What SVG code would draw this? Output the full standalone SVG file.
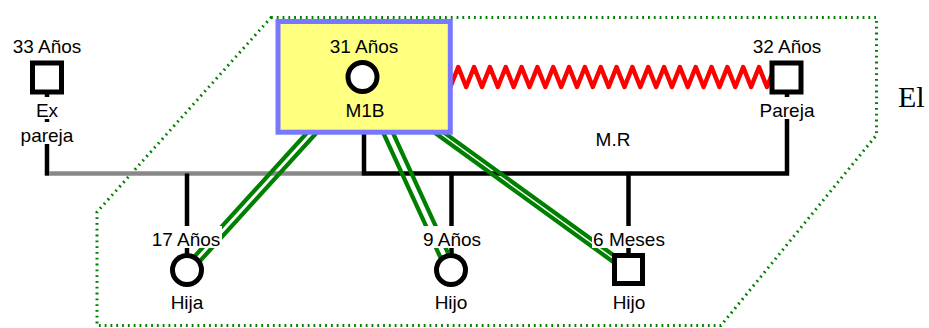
<svg xmlns="http://www.w3.org/2000/svg" width="929" height="328" viewBox="0 0 929 328">
<style>
.t{font-family:"Liberation Sans",Arial,sans-serif;font-size:19px;fill:#000;text-anchor:middle}
.serif{font-family:"Liberation Serif","Times New Roman",serif;font-size:30px;fill:#000}
.bg{fill:#fff}
.sh{fill:#fff;stroke:#000;stroke-width:5}
.fam{fill:none;stroke:#000;stroke-width:4.5}
.grey{fill:none;stroke:#888;stroke-width:4.5}
.emo{fill:none;stroke:#008000;stroke-width:4.2}
.zig{fill:none;stroke:#f00;stroke-width:4.5;stroke-linejoin:round}
.border{fill:none;stroke:#008000;stroke-width:3;stroke-dasharray:1.8 4}
</style>
<g id="household-border">
<path class="border" d="M271,17.5 H876.5 V135 L721,325.5 H97 V212 Z"/>
<text class="serif" x="898" y="107">El</text>
</g>
<g id="connectors">
<path class="fam" d="M47,94 V175.7"/>
<path class="grey" d="M49.2,173.5 H362"/>
<path class="fam" d="M364,132 V173.5 H787 V94"/>
<path class="fam" d="M187,173.5 V256"/>
<path class="fam" d="M451.5,173.5 V256"/>
<path class="fam" d="M628.5,173.5 V256"/>
<path class="zig" d="M450.34,87 L458.26,67 L466.17,87 L474.09,67 L482,87 L489.92,67 L497.83,87 L505.75,67 L513.66,87 L521.58,67 L529.49,87 L537.41,67 L545.32,87 L553.24,67 L561.15,87 L569.07,67 L576.98,87 L584.9,67 L592.81,87 L600.73,67 L608.64,87 L616.56,67 L624.47,87 L632.39,67 L640.3,87 L648.22,67 L656.13,87 L664.05,67 L671.96,87 L679.88,67 L687.79,87 L695.71,67 L703.62,87 L711.54,67 L719.45,87 L727.37,67 L735.28,87 L743.2,67 L751.11,87 L759.03,67 L766.94,87 L774.86,67"/>
<path class="emo" d="M357.7,77 L182.2,270 M367.3,77 L191.8,270"/>
<path class="emo" d="M357.7,77 L446.2,270 M367.3,77 L455.8,270"/>
<path class="emo" d="M357.7,77 L623.7,269.5 M367.3,77 L633.3,269.5"/>
<text class="t" x="613" y="146">M.R</text>
</g>
<g id="node-expareja">
<rect class="sh" x="32.5" y="63" width="29" height="29"/>
<text class="t" x="47" y="53">33 Años</text>
<rect class="bg" x="35" y="97" width="24" height="22"/>
<text class="t" x="47" y="117">Ex</text>
<rect class="bg" x="20" y="122" width="54" height="22"/>
<text class="t" x="47" y="142">pareja</text>
</g>
<g id="node-m1b">
<rect x="278" y="21.5" width="172.3" height="110.7" fill="#ffff80" stroke="#7777ff" stroke-width="5"/>
<circle class="sh" cx="362.5" cy="77" r="14.5"/>
<text class="t" x="364" y="53">31 Años</text>
<text class="t" x="365" y="117">M1B</text>
</g>
<g id="node-pareja">
<rect class="sh" x="772" y="63" width="29" height="29"/>
<text class="t" x="787" y="53">32 Años</text>
<rect class="bg" x="759" y="97" width="56" height="22"/>
<text class="t" x="787" y="117">Pareja</text>
</g>
<g id="node-hija">
<circle class="sh" cx="187" cy="270" r="14.5"/>
<rect class="bg" x="150" y="226" width="72" height="22"/>
<text class="t" x="186" y="246">17 Años</text>
<text class="t" x="187" y="309">Hija</text>
</g>
<g id="node-hijo-9">
<circle class="sh" cx="451" cy="270" r="14.5"/>
<rect class="bg" x="422" y="226" width="60" height="22"/>
<text class="t" x="452" y="246">9 Años</text>
<text class="t" x="451" y="309">Hijo</text>
</g>
<g id="node-hijo-6m">
<rect class="sh" x="614.5" y="255.5" width="28" height="28"/>
<rect class="bg" x="592" y="226" width="74" height="22"/>
<text class="t" x="629" y="246">6 Meses</text>
<text class="t" x="629" y="309">Hijo</text>
</g>
</svg>
